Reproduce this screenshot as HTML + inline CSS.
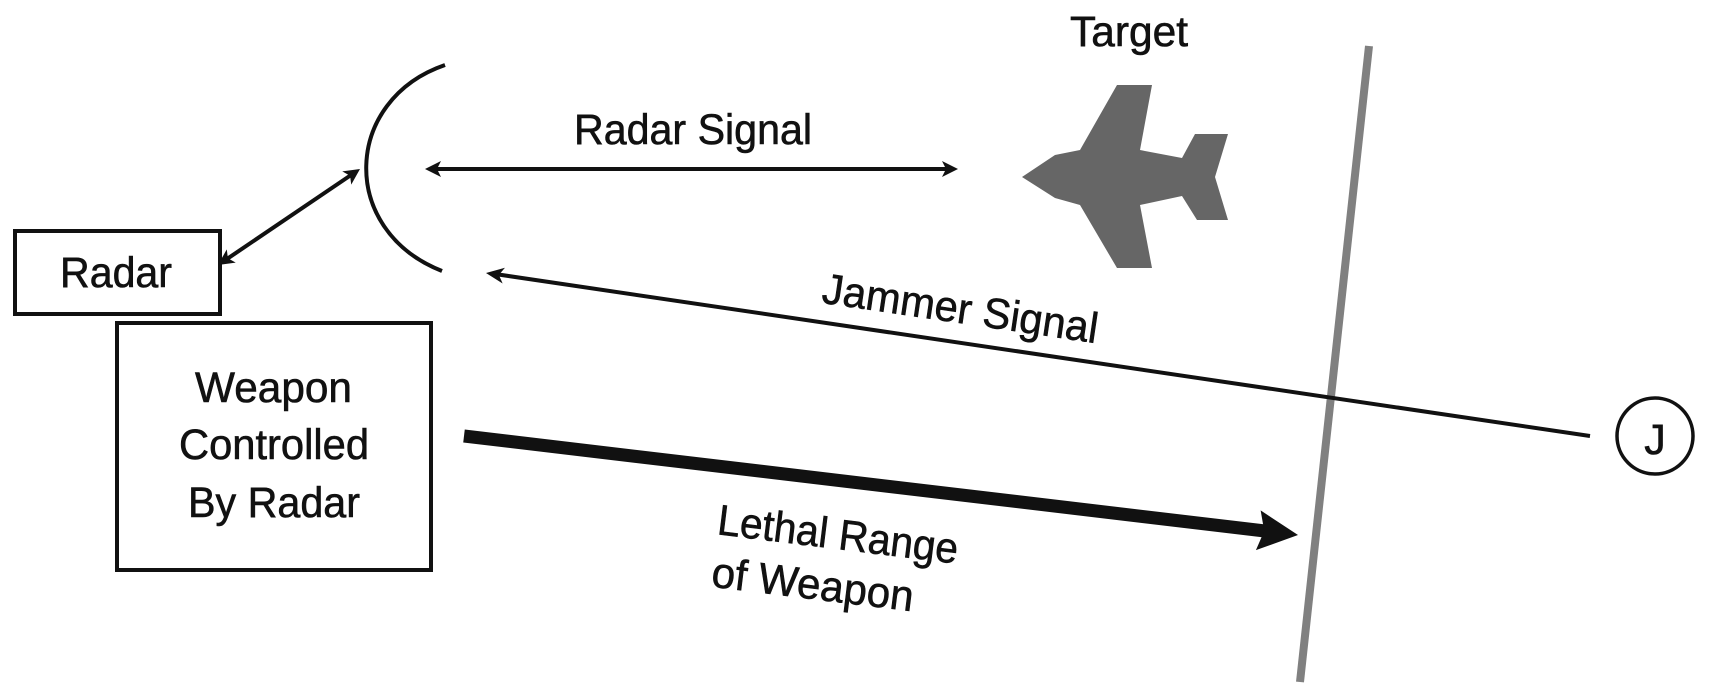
<!DOCTYPE html>
<html><head><meta charset="utf-8"><style>
html,body{margin:0;padding:0;background:#fff;}
svg text{font-family:"Liberation Sans Narrow","Liberation Sans",sans-serif;font-size:43px;fill:#111;stroke:#111;stroke-width:0.6px;}
</style></head><body>
<svg width="1711" height="695" viewBox="0 0 1711 695" xmlns="http://www.w3.org/2000/svg">
<text x="1070" y="46" textLength="118" lengthAdjust="spacingAndGlyphs">Target</text>
<path d="M1022,177 L1055,155 L1080,150 L1117,85 L1152,85 L1140,150 L1182,158 L1195,134 L1228,134 L1215,177 L1228,220 L1197,220 L1182,196 L1140,205 L1152,268 L1117,268 L1080,205 L1055,198 Z" fill="#666"/>
<line x1="1369" y1="46" x2="1300" y2="682" stroke="#808080" stroke-width="8"/>
<path d="M445,65 C343,100 338,230 442,271" fill="none" stroke="#111" stroke-width="4"/>
<line x1="430" y1="169" x2="952" y2="169" stroke="#111" stroke-width="4"/>
<g transform="translate(958,169)"><path d="M0,0 L-16,-8 L-12,0 L-16,8Z" fill="#111"/></g>
<g transform="translate(425,169) rotate(180)"><path d="M0,0 L-16,-8 L-12,0 L-16,8Z" fill="#111"/></g>
<text x="574" y="144" textLength="238" lengthAdjust="spacingAndGlyphs">Radar Signal</text>
<rect x="15" y="231" width="205" height="83" fill="none" stroke="#111" stroke-width="4"/>
<text x="60" y="287" textLength="112" lengthAdjust="spacingAndGlyphs">Radar</text>
<line x1="224" y1="261" x2="354" y2="173" stroke="#111" stroke-width="4"/>
<g transform="translate(218,265) rotate(145.9)"><path d="M0,0 L-16,-8 L-12,0 L-16,8Z" fill="#111"/></g>
<g transform="translate(360,169) rotate(-34.1)"><path d="M0,0 L-16,-8 L-12,0 L-16,8Z" fill="#111"/></g>
<rect x="117" y="323" width="314" height="247" fill="none" stroke="#111" stroke-width="4"/>
<text x="195" y="402" textLength="157" lengthAdjust="spacingAndGlyphs">Weapon</text>
<text x="179" y="459" textLength="190" lengthAdjust="spacingAndGlyphs">Controlled</text>
<text x="188" y="517" textLength="172" lengthAdjust="spacingAndGlyphs">By Radar</text>
<line x1="1590" y1="436" x2="495" y2="274" stroke="#111" stroke-width="4"/>
<g transform="translate(486,273) rotate(188.4)"><path d="M0,0 L-18,-8 L-13,0 L-18,8Z" fill="#111"/></g>
<text x="960" y="323" text-anchor="middle" textLength="278" lengthAdjust="spacingAndGlyphs" transform="rotate(8.4 960 311)">Jammer Signal</text>
<circle cx="1655" cy="436" r="38" fill="none" stroke="#111" stroke-width="3.5"/>
<text x="1655" y="454" text-anchor="middle" font-size="50">J</text>
<line x1="464" y1="436" x2="1265" y2="531" stroke="#111" stroke-width="13"/>
<g transform="translate(1298,535) rotate(6.77)"><path d="M0,0 L-40,-20 L-34,0 L-40,20Z" fill="#111"/></g>
<text x="838" y="549" text-anchor="middle" textLength="242" lengthAdjust="spacingAndGlyphs" transform="rotate(7 838 535)">Lethal Range</text>
<text x="813" y="599" text-anchor="middle" textLength="203" lengthAdjust="spacingAndGlyphs" transform="rotate(7 813 584)">of Weapon</text>
</svg>
</body></html>
